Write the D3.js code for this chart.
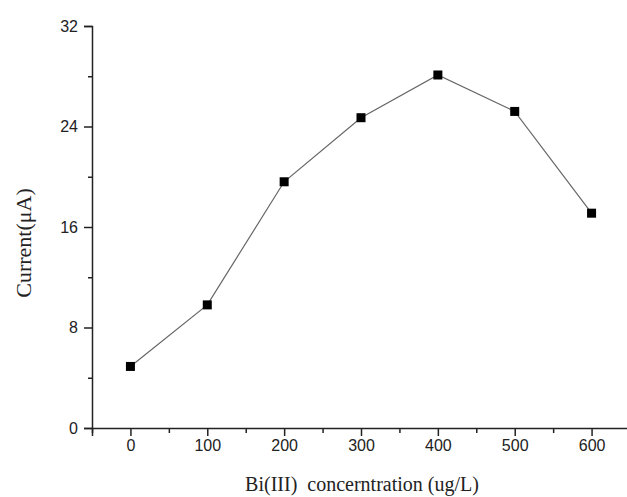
<!DOCTYPE html>
<html>
<head>
<meta charset="utf-8">
<script src="https://cdn.jsdelivr.net/npm/d3@7"></script>
<style>
  html, body { margin: 0; padding: 0; background: #fff; }
  svg { display: block; }
</style>
</head>
<body>
<svg id="chart" width="627" height="497"></svg>
<script>
const concentrations = [0, 100, 200, 300, 400, 500, 600];
const currents = [4.9, 9.8, 19.6, 24.7, 28.1, 25.2, 17.1];
const xTicks = [0, 100, 200, 300, 400, 500, 600];
const xMinorTicks = [-50, 50, 150, 250, 350, 450, 550, 650];
const yTicks = [0, 8, 16, 24, 32];
const yMinorTicks = [4, 12, 20, 28];
const xTitle = "Bi(III)\u00a0 concerntration (ug/L)";
const yTitle = "Current(\u03bcA)";

const svg = d3.select("#chart");
const x = d3.scaleLinear().domain([-50, 650]).range([92, 630]);
const y = d3.scaleLinear().domain([0, 32]).range([428, 26]);

const axisColor = "#222";
const tickFont = "Liberation Sans, Arial, sans-serif";

// X axis
const gx = svg.append("g").attr("transform", `translate(0,${y(0)})`);
gx.call(d3.axisBottom(x).tickValues(xTicks).tickSize(8).tickPadding(4).tickFormat(d3.format("d")));
gx.append("g").call(d3.axisBottom(x).tickValues(xMinorTicks).tickSize(5).tickFormat(""))
  .select(".domain").remove();
gx.selectAll(".domain").attr("stroke", axisColor).attr("stroke-width", 1.5);
gx.selectAll(".tick line").attr("stroke", axisColor).attr("stroke-width", 1.5);
gx.selectAll("text").attr("font-family", tickFont).attr("font-size", 16).attr("fill", "#222");

// Y axis
const gy = svg.append("g").attr("transform", `translate(${x(-50)},0)`);
gy.call(d3.axisLeft(y).tickValues(yTicks).tickSize(8).tickPadding(6).tickFormat(d3.format("d")));
gy.append("g").call(d3.axisLeft(y).tickValues(yMinorTicks).tickSize(4).tickFormat(""))
  .select(".domain").remove();
gy.selectAll(".domain").attr("stroke", axisColor).attr("stroke-width", 1.5);
gy.selectAll(".tick line").attr("stroke", axisColor).attr("stroke-width", 1.5);
gy.selectAll("text").attr("font-family", tickFont).attr("font-size", 16).attr("fill", "#222");

// Line
const pts = concentrations.map((c, i) => [c, currents[i]]);
svg.append("path")
  .datum(pts)
  .attr("fill", "none")
  .attr("stroke", "#666")
  .attr("stroke-width", 1.2)
  .attr("d", d3.line().x(d => x(d[0])).y(d => y(d[1])));

// Markers
const ms = 9;
svg.selectAll("rect.pt").data(pts).enter().append("rect")
  .attr("class", "pt")
  .attr("x", d => x(d[0]) - ms / 2)
  .attr("y", d => y(d[1]) - ms / 2)
  .attr("width", ms).attr("height", ms)
  .attr("fill", "#000");

// Titles
svg.append("text")
  .attr("x", 362).attr("y", 491)
  .attr("text-anchor", "middle")
  .attr("font-family", "Liberation Serif, Times New Roman, serif")
  .attr("font-size", 20).attr("fill", "#222")
  .text(xTitle);

svg.append("text")
  .attr("transform", "translate(31,243) rotate(-90)")
  .attr("text-anchor", "middle")
  .attr("font-family", "Liberation Serif, Times New Roman, serif")
  .attr("font-size", 22).attr("fill", "#222")
  .text(yTitle);
</script>
</body>
</html>
